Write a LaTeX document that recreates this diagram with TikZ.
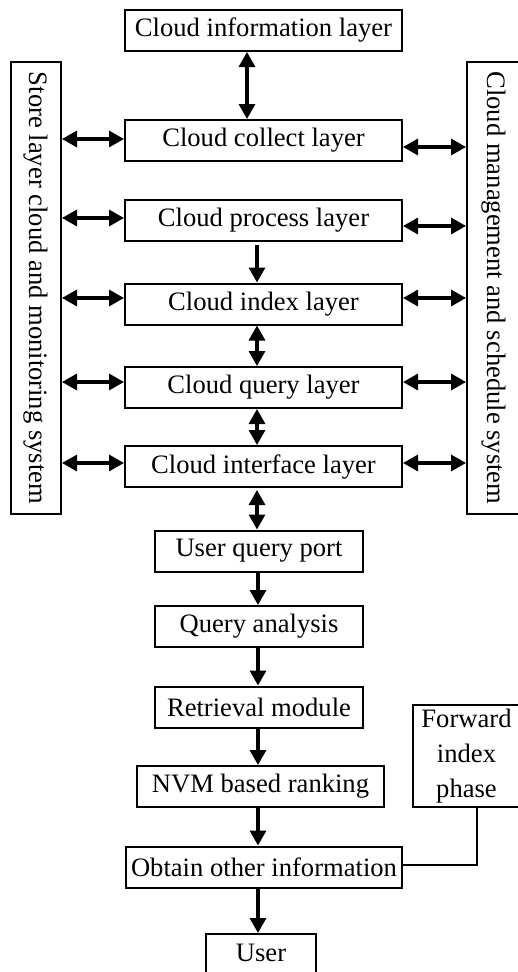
\documentclass[tikz,border=0pt]{standalone}
\usepackage{fontspec}
\setmainfont{Liberation Serif}
\usetikzlibrary{arrows.meta}

\tikzset{
  box/.style={draw, line width=2pt, rectangle, inner sep=0pt, align=center,
              minimum height=41pt},
  layer/.style={box, minimum width=277pt},
  stage/.style={box, minimum width=208pt},
  side/.style={draw, line width=2pt, rectangle, inner sep=0pt,
               minimum width=50pt, minimum height=452pt},
  vtext/.style={rotate=-90, inner sep=0pt},
  tip/.style={},
  link/.style={line width=3.2pt, -{Triangle[length=15pt,width=16pt]}},
  dlink/.style={line width=3.2pt, {Triangle[length=15pt,width=16pt]}-{Triangle[length=15pt,width=16pt]}},
  plain/.style={line width=1.6pt}
}

\begin{document}
\begin{tikzpicture}[x=1pt, y=-1pt, font=\fontsize{26.6}{31}\selectfont]
\useasboundingbox (0,0) rectangle (518,972);
\clip (0,0) rectangle (518,972);

% central layer stack
\node[layer] (info)      at (263.5,30.5)  {Cloud information layer};
\node[layer] (collect)   at (263.5,140.5) {Cloud collect layer};
\node[layer] (process)   at (263.5,220.5) {Cloud process layer};
\node[layer] (index)     at (263.5,304)   {Cloud index layer};
\node[layer] (query)     at (263.5,387.5) {Cloud query layer};
\node[layer] (interface) at (263.5,466.5) {Cloud interface layer};

% side systems
\node[side] (store) at (36,288)  {};
\node[vtext] (storetxt) at (store.center) {Store layer cloud and monitoring system};
\node[side, minimum width=54pt] (manage) at (494,288) {};
\node[vtext] (managetxt) at (manage.center) {Cloud management and schedule system};

% query pipeline
\node[stage] (port)      at (259,551)   {User query port};
\node[stage] (analysis)  at (259,626.5) {Query analysis};
\node[stage] (retrieval) at (259,707)   {Retrieval module};
\node[box, minimum width=247pt] (rank)   at (260.5,786.5) {NVM based ranking};
\node[box, minimum width=276pt] (obtain) at (264,867)     {Obtain other information};
\node[box, minimum width=110pt, minimum height=52pt, anchor=north] (user) at (261,933) {};
\node (usertxt) at (261,953) {User};
\node[box, minimum width=107pt, minimum height=102pt,
      font=\fontsize{26.6}{35}\selectfont] (forward) at (466.5,756) {Forward\\index\\phase};

% vertical connectors
\draw[dlink] (247,0 |- info.south) -- (247,0 |- collect.north);
\draw[link]  (257,0 |- process.south) ++(0,3) -- (257,0 |- index.north);
\draw[dlink] (257,0 |- index.south) -- (257,0 |- query.north);
\draw[dlink] (257,0 |- query.south) -- (257,0 |- interface.north);
\draw[dlink] (257,0 |- interface.south) ++(0,2) -- (257,0 |- port.north);
\draw[link]  (258,0 |- port.south) -- (258,0 |- analysis.north);
\draw[link]  (258,0 |- analysis.south) -- (258,0 |- retrieval.north);
\draw[link]  (258,0 |- retrieval.south) -- (258,0 |- rank.north);
\draw[link]  (258,0 |- rank.south) -- (258,0 |- obtain.north);
\draw[link]  (258,0 |- obtain.south) -- (258,0 |- user.north);

% links to the side systems
\foreach \n/\yl/\yr in {collect/139/147, process/218/226, index/298/298,
                        query/382/382, interface/463/463} {
  \draw[dlink] (store.east |- 0,\yl) -- (\n.west |- 0,\yl);
  \draw[dlink] (\n.east |- 0,\yr) -- (manage.west |- 0,\yr);
}

% forward index feed
\draw[plain] (obtain.east |- 0,865) -| (477,0 |- forward.south);
\end{tikzpicture}
\end{document}
